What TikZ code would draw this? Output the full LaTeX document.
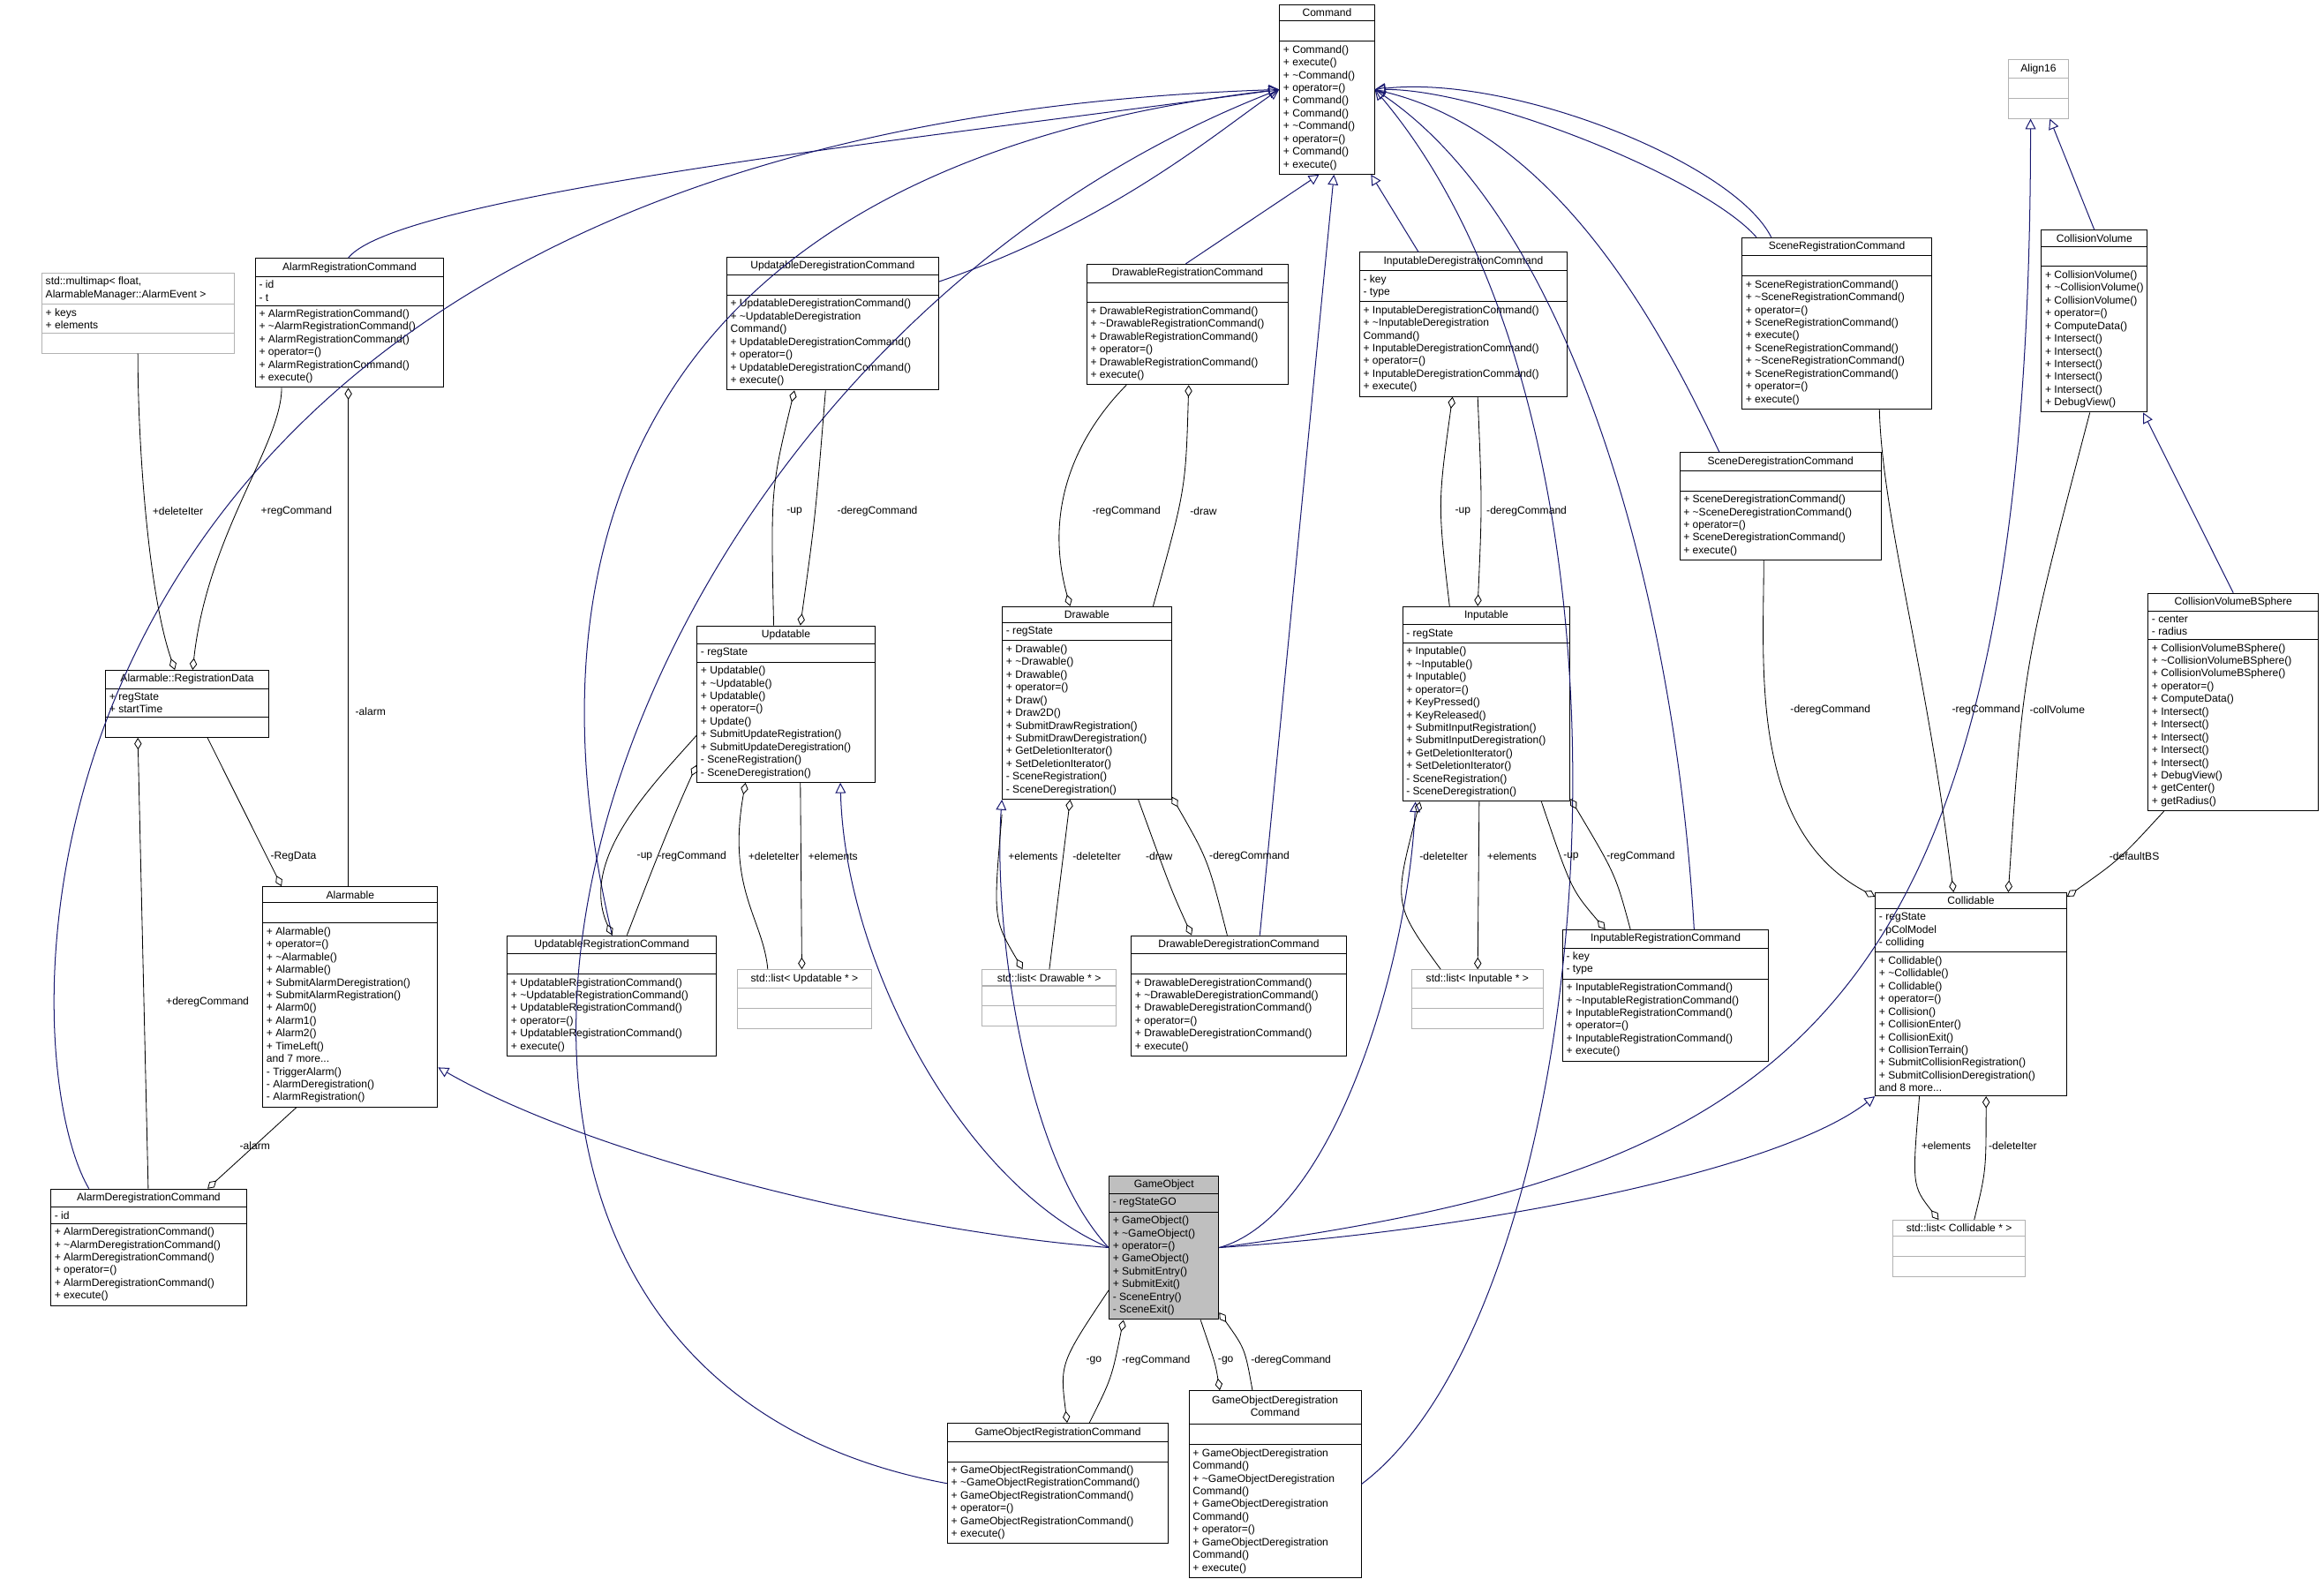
\documentclass[tikz,border=0pt]{standalone}
\usepackage{fontspec}
\setmainfont{Liberation Sans}
\usetikzlibrary{shapes.multipart,arrows.meta,calc}
\definecolor{navy}{HTML}{191970}
\tikzset{
 x=1pt,y=-1pt,
 fnt/.style={font=\fontsize{7.2}{8.6}\selectfont},
 cls/.style={fnt,rectangle split,rectangle split parts=3,draw=black,align=left,
   rectangle split part align={center,left,left},anchor=north west,inner xsep=2.5pt,inner ysep=2.5pt,
   rectangle split empty part height=8pt,line width=0.6pt},
 gcls/.style={cls,draw=black!30},
 gclsl/.style={gcls,rectangle split part align={left,left,left}},
 inh/.style={draw=navy,line width=0.6pt,-{Triangle[open,length=7pt,width=7pt]}},
 agg/.style={draw=black,line width=0.5pt,{Diamond[open,length=8pt,width=5pt]}-},
 lbl/.style={fnt,inner sep=1pt},
}
\begin{document}
\begin{tikzpicture}
\useasboundingbox (0,0) rectangle (1568,1075);
\node[cls,minimum width=64pt] (Cmd) at (863,3) {Command\nodepart{two}\nodepart{three}+ Command()\\+ execute()\\+ \textasciitilde Command()\\+ operator=()\\+ Command()\\+ Command()\\+ \textasciitilde Command()\\+ operator=()\\+ Command()\\+ execute()};
\node[gcls,minimum width=40pt] (A16) at (1355,40) {Align16\nodepart{two}\nodepart{three}};
\node[cls,minimum width=57pt] (CV) at (1377,155) {CollisionVolume\nodepart{two}\nodepart{three}+ CollisionVolume()\\+ \textasciitilde CollisionVolume()\\+ CollisionVolume()\\+ operator=()\\+ ComputeData()\\+ Intersect()\\+ Intersect()\\+ Intersect()\\+ Intersect()\\+ Intersect()\\+ DebugView()};
\node[cls,minimum width=115pt] (CVBS) at (1449,400) {CollisionVolumeBSphere\nodepart{two}- center\\- radius\nodepart{three}+ CollisionVolumeBSphere()\\+ \textasciitilde CollisionVolumeBSphere()\\+ CollisionVolumeBSphere()\\+ operator=()\\+ ComputeData()\\+ Intersect()\\+ Intersect()\\+ Intersect()\\+ Intersect()\\+ Intersect()\\+ DebugView()\\+ getCenter()\\+ getRadius()};
\node[cls,minimum width=128pt] (SRC) at (1175,160) {SceneRegistrationCommand\nodepart{two}\nodepart{three}+ SceneRegistrationCommand()\\+ \textasciitilde SceneRegistrationCommand()\\+ operator=()\\+ SceneRegistrationCommand()\\+ execute()\\+ SceneRegistrationCommand()\\+ \textasciitilde SceneRegistrationCommand()\\+ SceneRegistrationCommand()\\+ operator=()\\+ execute()};
\node[cls,minimum width=136pt] (SDC) at (1133,305) {SceneDeregistrationCommand\nodepart{two}\nodepart{three}+ SceneDeregistrationCommand()\\+ \textasciitilde SceneDeregistrationCommand()\\+ operator=()\\+ SceneDeregistrationCommand()\\+ execute()};
\node[cls,minimum width=140pt] (IDC) at (917,170) {InputableDeregistrationCommand\nodepart{two}- key\\- type\nodepart{three}+ InputableDeregistrationCommand()\\+ \textasciitilde InputableDeregistration\\Command()\\+ InputableDeregistrationCommand()\\+ operator=()\\+ InputableDeregistrationCommand()\\+ execute()};
\node[cls,minimum width=136pt] (DRC) at (733,178) {DrawableRegistrationCommand\nodepart{two}\nodepart{three}+ DrawableRegistrationCommand()\\+ \textasciitilde DrawableRegistrationCommand()\\+ DrawableRegistrationCommand()\\+ operator=()\\+ DrawableRegistrationCommand()\\+ execute()};
\node[cls,minimum width=143pt] (UDC) at (490,173) {UpdatableDeregistrationCommand\nodepart{two}\nodepart{three}+ UpdatableDeregistrationCommand()\\+ \textasciitilde UpdatableDeregistration\\Command()\\+ UpdatableDeregistrationCommand()\\+ operator=()\\+ UpdatableDeregistrationCommand()\\+ execute()};
\node[cls,minimum width=127pt] (ARC) at (172,174) {AlarmRegistrationCommand\nodepart{two}- id\\- t\nodepart{three}+ AlarmRegistrationCommand()\\+ \textasciitilde AlarmRegistrationCommand()\\+ AlarmRegistrationCommand()\\+ operator=()\\+ AlarmRegistrationCommand()\\+ execute()};
\node[gclsl,minimum width=130pt] (MM) at (28,184) {std::multimap< float,\\ AlarmableManager::AlarmEvent >\nodepart{two}+ keys\\+ elements\nodepart{three}};
\node[cls,minimum width=110pt] (RD) at (71,452) {Alarmable::RegistrationData\nodepart{two}+ regState\\+ startTime\nodepart{three}};
\node[cls,minimum width=120pt] (Upd) at (470,422) {Updatable\nodepart{two}- regState\nodepart{three}+ Updatable()\\+ \textasciitilde Updatable()\\+ Updatable()\\+ operator=()\\+ Update()\\+ SubmitUpdateRegistration()\\+ SubmitUpdateDeregistration()\\- SceneRegistration()\\- SceneDeregistration()};
\node[cls,minimum width=114pt] (Drw) at (676,409) {Drawable\nodepart{two}- regState\nodepart{three}+ Drawable()\\+ \textasciitilde Drawable()\\+ Drawable()\\+ operator=()\\+ Draw()\\+ Draw2D()\\+ SubmitDrawRegistration()\\+ SubmitDrawDeregistration()\\+ GetDeletionIterator()\\+ SetDeletionIterator()\\- SceneRegistration()\\- SceneDeregistration()};
\node[cls,minimum width=113pt] (Inp) at (946,409) {Inputable\nodepart{two}- regState\nodepart{three}+ Inputable()\\+ \textasciitilde Inputable()\\+ Inputable()\\+ operator=()\\+ KeyPressed()\\+ KeyReleased()\\+ SubmitInputRegistration()\\+ SubmitInputDeregistration()\\+ GetDeletionIterator()\\+ SetDeletionIterator()\\- SceneRegistration()\\- SceneDeregistration()};
\node[cls,minimum width=118pt] (Alm) at (177,598) {Alarmable\nodepart{two}\nodepart{three}+ Alarmable()\\+ operator=()\\+ \textasciitilde Alarmable()\\+ Alarmable()\\+ SubmitAlarmDeregistration()\\+ SubmitAlarmRegistration()\\+ Alarm0()\\+ Alarm1()\\+ Alarm2()\\+ TimeLeft()\\and 7 more...\\- TriggerAlarm()\\- AlarmDeregistration()\\- AlarmRegistration()};
\node[cls,minimum width=141pt] (URC) at (342,631) {UpdatableRegistrationCommand\nodepart{two}\nodepart{three}+ UpdatableRegistrationCommand()\\+ \textasciitilde UpdatableRegistrationCommand()\\+ UpdatableRegistrationCommand()\\+ operator=()\\+ UpdatableRegistrationCommand()\\+ execute()};
\node[gcls,minimum width=91pt] (UL) at (497,654) {std::list< Updatable * >\nodepart{two}\nodepart{three}};
\node[gcls,minimum width=91pt] (DL) at (662,654) {std::list< Drawable * >\nodepart{two}\nodepart{three}};
\node[cls,minimum width=145pt] (DDC) at (763,631) {DrawableDeregistrationCommand\nodepart{two}\nodepart{three}+ DrawableDeregistrationCommand()\\+ \textasciitilde DrawableDeregistrationCommand()\\+ DrawableDeregistrationCommand()\\+ operator=()\\+ DrawableDeregistrationCommand()\\+ execute()};
\node[gcls,minimum width=89pt] (IL) at (952,654) {std::list< Inputable * >\nodepart{two}\nodepart{three}};
\node[cls,minimum width=139pt] (IRC) at (1054,627) {InputableRegistrationCommand\nodepart{two}- key\\- type\nodepart{three}+ InputableRegistrationCommand()\\+ \textasciitilde InputableRegistrationCommand()\\+ InputableRegistrationCommand()\\+ operator=()\\+ InputableRegistrationCommand()\\+ execute()};
\node[cls,minimum width=129pt] (Col) at (1265,602) {Collidable\nodepart{two}- regState\\- pColModel\\- colliding\nodepart{three}+ Collidable()\\+ \textasciitilde Collidable()\\+ Collidable()\\+ operator=()\\+ Collision()\\+ CollisionEnter()\\+ CollisionExit()\\+ CollisionTerrain()\\+ SubmitCollisionRegistration()\\+ SubmitCollisionDeregistration()\\and 8 more...};
\node[gcls,minimum width=89pt] (CL) at (1277,823) {std::list< Collidable * >\nodepart{two}\nodepart{three}};
\node[cls,minimum width=132pt] (ADC) at (34,802) {AlarmDeregistrationCommand\nodepart{two}- id\nodepart{three}+ AlarmDeregistrationCommand()\\+ \textasciitilde AlarmDeregistrationCommand()\\+ AlarmDeregistrationCommand()\\+ operator=()\\+ AlarmDeregistrationCommand()\\+ execute()};
\node[cls,minimum width=74pt,fill=black!25] (GO) at (748,793) {GameObject\nodepart{two}- regStateGO\nodepart{three}+ GameObject()\\+ \textasciitilde GameObject()\\+ operator=()\\+ GameObject()\\+ SubmitEntry()\\+ SubmitExit()\\- SceneEntry()\\- SceneExit()};
\node[cls,minimum width=149pt] (GORC) at (639,960) {GameObjectRegistrationCommand\nodepart{two}\nodepart{three}+ GameObjectRegistrationCommand()\\+ \textasciitilde GameObjectRegistrationCommand()\\+ GameObjectRegistrationCommand()\\+ operator=()\\+ GameObjectRegistrationCommand()\\+ execute()};
\node[cls,minimum width=116pt] (GODC) at (802,938) {\begin{tabular}{@{}c@{}}GameObjectDeregistration\\Command\end{tabular}\nodepart{two}\nodepart{three}+ GameObjectDeregistration\\Command()\\+ \textasciitilde GameObjectDeregistration\\Command()\\+ GameObjectDeregistration\\Command()\\+ operator=()\\+ GameObjectDeregistration\\Command()\\+ execute()};
% inheritance
\draw[inh] (235,0 |- ARC.north) .. controls (270,130) and (650,90) .. (Cmd.west);
\draw[inh] ([yshift=-17pt]UDC.north east) .. controls (750,150) and (820,90) .. (Cmd.west);
\draw[inh] (60,0 |- ADC.north) .. controls (0,700) and (-10,90) .. (Cmd.west);
\draw[inh] (413,0 |- URC.north) .. controls (370,450) and (360,120) .. (Cmd.west);
\draw[inh] (GORC.west) .. controls (200,920) and (380,250) .. (Cmd.west);
\draw[inh] (800,0 |- DRC.north) -- (890,0 |- Cmd.south);
\draw[inh] (850,0 |- DDC.north) -- (900,0 |- Cmd.south);
\draw[inh] (957,0 |- IDC.north) -- (925,0 |- Cmd.south);
\draw[inh] (1185,0 |- SRC.north) .. controls (1150,120) and (1000,60) .. (Cmd.east);
\draw[inh] (1195,0 |- SRC.north) .. controls (1170,110) and (1020,50) .. (Cmd.east);
\draw[inh] (1160,0 |- SDC.north) .. controls (1120,220) and (1050,90) .. (Cmd.east);
\draw[inh] (1143,0 |- IRC.north) .. controls (1130,400) and (1060,150) .. (Cmd.east);
\draw[inh] (GODC.east) .. controls (1080,880) and (1130,300) .. (Cmd.east);
\draw[inh] (CV.north) -- (1383,0 |- A16.south);
\draw[inh] (CVBS.north) -- ([xshift=-3pt]CV.south east);
\draw[inh] (GO.east) .. controls (1200,790) and (1370,700) .. (1370,0 |- A16.south);
\draw[inh] (GO.east) .. controls (1000,830) and (1200,790) .. (Col.south west);
\draw[inh] (GO.west) .. controls (600,830) and (400,780) .. ([yshift=27pt]Alm.south east);
\draw[inh] (GO.west) .. controls (650,800) and (570,650) .. (567,0 |- Upd.south);
\draw[inh] (GO.west) .. controls (690,780) and (670,620) .. (Drw.south west);
\draw[inh] (GO.east) .. controls (900,820) and (950,650) .. (955,0 |- Inp.south);
% aggregation
\draw[agg] (118,0 |- RD.north) .. controls (100,400) and (93,300) .. (93,0 |- MM.south) node[lbl] at (120,345) {+deleteIter};
\draw[agg] (130,0 |- RD.north) .. controls (140,360) and (190,300) .. (190,0 |- ARC.south) node[lbl] at (200,345) {+regCommand};
\draw[agg] (190,0 |- Alm.north) -- (140,0 |- RD.south) node[lbl] at (198,578) {-RegData};
\draw[agg] (235,0 |- ARC.south) -- (235,0 |- Alm.north) node[lbl] at (250,480) {-alarm};
\draw[agg] (93,0 |- RD.south) -- (100,0 |- ADC.north) node[lbl] at (140,676) {+deregCommand};
\draw[agg] (140,0 |- ADC.north) -- (200,0 |- Alm.south) node[lbl] at (172,773) {-alarm};
\draw[agg] (536,0 |- UDC.south) .. controls (520,330) .. (522,0 |- Upd.north) node[lbl] at (536,345) {-up};
\draw[agg] (540,0 |- Upd.north) .. controls (550,350) .. (557,0 |- UDC.south) node[lbl] at (592,345) {-deregCommand};
\draw[agg] (413,0 |- URC.north) .. controls (390,580) and (440,530) .. ([yshift=32pt]Upd.south west) node[lbl] at (435,578) {-up};
\draw[agg] ([yshift=12pt]Upd.south west) .. controls (450,560) and (435,600) .. (423,0 |- URC.north) node[lbl] at (467,578) {-regCommand};
\draw[agg] (503,0 |- Upd.south) .. controls (490,600) and (515,620) .. (518,0 |- UL.north) node[lbl] at (522,578) {+deleteIter};
\draw[agg] (541,0 |- UL.north) -- (540,0 |- Upd.south) node[lbl] at (562,578) {+elements};
\draw[agg] (722,0 |- Drw.north) .. controls (700,330) and (740,280) .. (760,0 |- DRC.south) node[lbl] at (760,345) {-regCommand};
\draw[agg] (802,0 |- DRC.south) .. controls (800,330) .. (778,0 |- Drw.north) node[lbl] at (812,345) {-draw};
\draw[agg] (690,0 |- DL.north) .. controls (670,620) .. ([yshift=-10pt]Drw.south west) node[lbl] at (697,578) {+elements};
\draw[agg] (722,0 |- Drw.south) -- (708,0 |- DL.north) node[lbl] at (740,578) {-deleteIter};
\draw[agg] (804,0 |- DDC.north) .. controls (790,600) .. (768,0 |- Drw.south) node[lbl] at (782,578) {-draw};
\draw[agg] ([yshift=2pt]Drw.south east) .. controls (815,580) .. (828,0 |- DDC.north) node[lbl] at (843,578) {-deregCommand};
\draw[agg] (980,0 |- IDC.south) .. controls (970,340) .. (978,0 |- Inp.north) node[lbl] at (987,345) {-up};
\draw[agg] (997,0 |- Inp.north) .. controls (1000,340) .. (997,0 |- IDC.south) node[lbl] at (1030,345) {-deregCommand};
\draw[agg] (958,0 |- Inp.south) .. controls (940,610) .. (972,0 |- IL.north) node[lbl] at (974,578) {-deleteIter};
\draw[agg] (997,0 |- IL.north) -- (998,0 |- Inp.south) node[lbl] at (1020,578) {+elements};
\draw[agg] (1083,0 |- IRC.north) .. controls (1060,600) .. (1040,0 |- Inp.south) node[lbl] at (1060,578) {-up};
\draw[agg] ([yshift=2pt]Inp.south east) .. controls (1090,590) .. (1100,0 |- IRC.north) node[lbl] at (1107,578) {-regCommand};
\draw[agg] ([yshift=-3pt]Col.north west) .. controls (1180,560) and (1190,450) .. (1190,0 |- SDC.south) node[lbl] at (1235,479) {-deregCommand};
\draw[agg] (1318,0 |- Col.north) .. controls (1300,450) and (1270,350) .. (1268,0 |- SRC.south) node[lbl] at (1340,479) {-regCommand};
\draw[agg] (1355,0 |- Col.north) .. controls (1365,450) .. (1410,0 |- CV.south) node[lbl] at (1388,479) {-collVolume};
\draw[agg] ([yshift=-3pt]Col.north east) .. controls (1430,580) .. (1460,0 |- CVBS.south) node[lbl] at (1440,578) {-defaultBS};
\draw[agg] (1308,0 |- CL.north) .. controls (1290,800) .. (1295,0 |- Col.south) node[lbl] at (1313,773) {+elements};
\draw[agg] (1340,0 |- Col.south) .. controls (1340,790) .. (1332,0 |- CL.north) node[lbl] at (1358,773) {-deleteIter};
\draw[agg] (720,0 |- GORC.north) .. controls (715,920) .. ([yshift=20pt]GO.south west) node[lbl] at (738,918) {-go};
\draw[agg] (758,0 |- GO.south) .. controls (750,930) .. (735,0 |- GORC.north) node[lbl] at (780,918) {-regCommand};
\draw[agg] (823,0 |- GODC.north) .. controls (820,920) .. (810,0 |- GO.south) node[lbl] at (827,918) {-go};
\draw[agg] ([yshift=5pt]GO.south east) .. controls (840,910) .. (845,0 |- GODC.north) node[lbl] at (871,918) {-deregCommand};
\end{tikzpicture}
\end{document}
